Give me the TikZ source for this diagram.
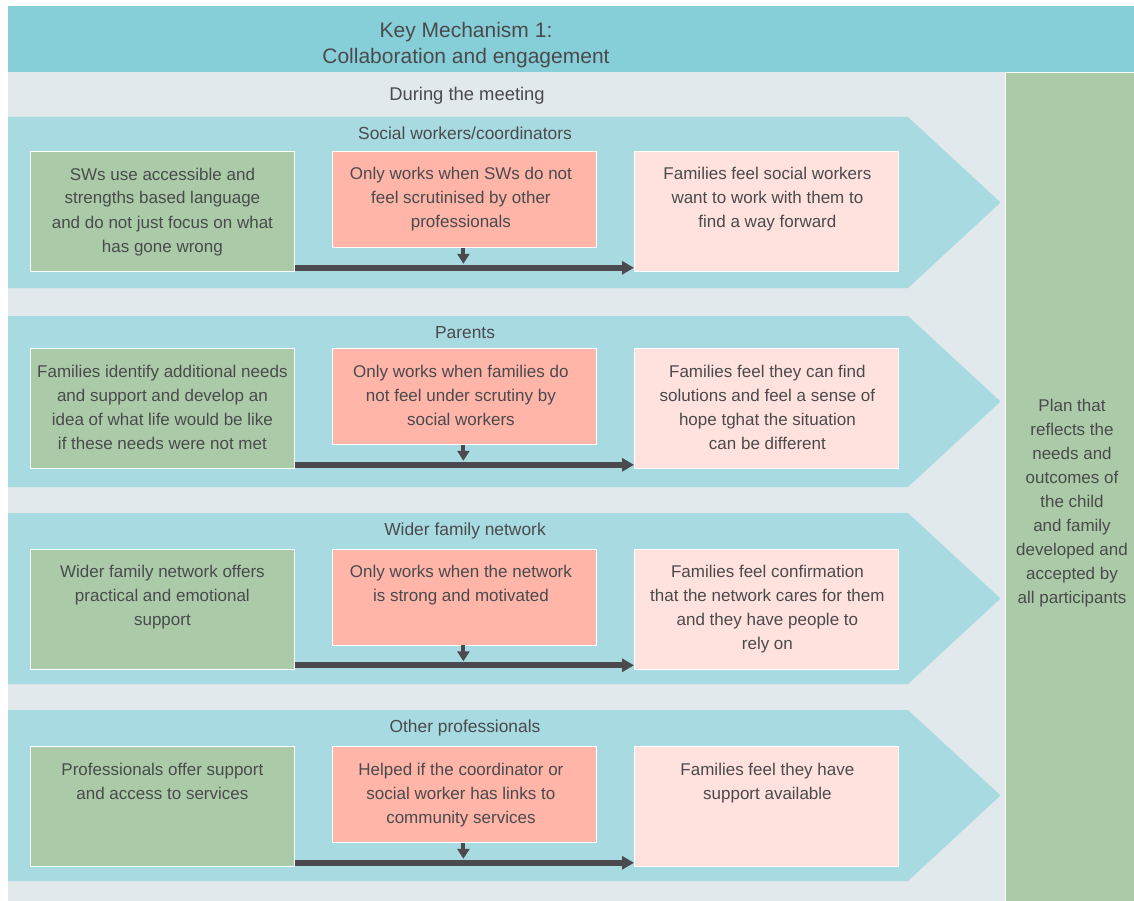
\documentclass[tikz,border=0pt]{standalone}
\usepackage{fontspec}
\setmainfont{Liberation Sans}
\usetikzlibrary{arrows.meta}
\definecolor{hdr}{HTML}{86CFD9}
\definecolor{bgc}{HTML}{E1E9EC}
\definecolor{chev}{HTML}{A7DBE1}
\definecolor{grn}{HTML}{ABCBA8}
\definecolor{sal}{HTML}{FFB5A8}
\definecolor{pnk}{HTML}{FFE2DD}
\definecolor{arr}{HTML}{4A4A4F}
\definecolor{txt}{HTML}{4A4A4D}
\newcommand\bodyfont{\fontsize{17}{24}\selectfont}
\newcommand\titlefont{\fontsize{17.4}{24}\selectfont}
\newcommand\duringfont{\fontsize{18.4}{24}\selectfont}
\newcommand\headfont{\fontsize{21}{25.5}\selectfont}
% #1 id, #2 row top, #3 box top, #4 title, #5 green, #6 red, #7 pink
\newcommand\kmrow[7]{%
  \fill[chev] (8,#2) -- (908,#2) -- (1000.5,{#2+85.5}) -- (908,{#2+171}) -- (8,{#2+171}) -- cycle;
  \node[ttext] (t#1) at (465,{#2+22.5}) {#4};
  \node[gbox] (g#1) at (30,#3) {};
  \node[rbox] (r#1) at (332,#3) {};
  \node[pbox] (p#1) at (634,#3) {};
  \node[btext] (gt#1) at ([yshift=-12pt]g#1.north) {\strut #5};
  \node[btext] (rt#1) at ([xshift=-3.5pt,yshift=-12pt]r#1.north) {\strut #6};
  \node[btext] (pt#1) at ([xshift=1pt,yshift=-12pt]p#1.north) {\strut #7};
  \coordinate (v#1) at ([xshift=-1pt,yshift=-16pt]r#1.south);
  \draw[varrow] ([xshift=-1pt]r#1.south) -- (v#1);
  \draw[harrow] ([yshift=4pt]g#1.south east) -- ([yshift=4pt]p#1.south west);
}
\begin{document}
\begin{tikzpicture}[x=1pt,y=-1pt,
  box/.style={draw=white, line width=0.8pt, minimum width=264pt, anchor=north west, inner sep=0pt},
  gbox/.style={box, fill=grn, minimum height=120pt},
  rbox/.style={box, fill=sal, minimum height=96pt},
  pbox/.style={box, fill=pnk, minimum height=120pt},
  btext/.style={anchor=north, inner sep=0pt, align=center, text=txt, font=\bodyfont},
  ttext/.style={anchor=base, inner sep=0pt, text=txt, font=\titlefont},
  harrow/.style={draw=arr, line width=6pt, -{Triangle[length=12pt,width=13pt]}},
  varrow/.style={draw=arr, line width=4pt, -{Triangle[length=10pt,width=12pt]}}]
\useasboundingbox (0,0) rectangle (1134,901);
\fill[white] (0,0) rectangle (1134,901);
\fill[hdr] (8,6) rectangle (1134,72);
\fill[bgc] (8,72) rectangle (1005,901);
\node[draw=white, line width=1pt, fill=grn, anchor=north west, inner sep=0pt,
  minimum width=129pt, minimum height=829pt] (plan) at (1005,72) {};
\node[anchor=north, inner sep=0pt, align=center, text=txt, font=\headfont] (head) at (466,19.6)
  {\strut Key Mechanism 1:\\Collaboration and engagement};
\node[ttext, font=\duringfont] (during) at (467,100.5) {During the meeting};
\node[btext] (plantext) at (1072,394.7) {\strut Plan that\\reflects the\\needs and\\outcomes of\\the child\\and family\\developed and\\accepted by\\all participants};
\kmrow{1}{117}{151}{Social workers/coordinators}
  {SWs use accessible and\\strengths based language\\and do not just focus on what\\has gone wrong}
  {Only works when SWs do not\\feel scrutinised by other\\professionals}
  {Families feel social workers\\want to work with them to\\find a way forward}
\kmrow{2}{316}{348}{Parents}
  {Families identify additional needs\\and support and develop an\\idea of what life would be like\\if these needs were not met}
  {Only works when families do\\not feel under scrutiny by\\social workers}
  {Families feel they can find\\solutions and feel a sense of\\hope tghat the situation\\can be different}
\kmrow{3}{513}{548.5}{Wider family network}
  {Wider family network offers\\practical and emotional\\support}
  {Only works when the network\\is strong and motivated}
  {Families feel confirmation\\that the network cares for them\\and they have people to\\rely on}
\kmrow{4}{710}{746}{Other professionals}
  {Professionals offer support\\and access to services}
  {Helped if the coordinator or\\social worker has links to\\community services}
  {Families feel they have\\support available}
\end{tikzpicture}
\end{document}
